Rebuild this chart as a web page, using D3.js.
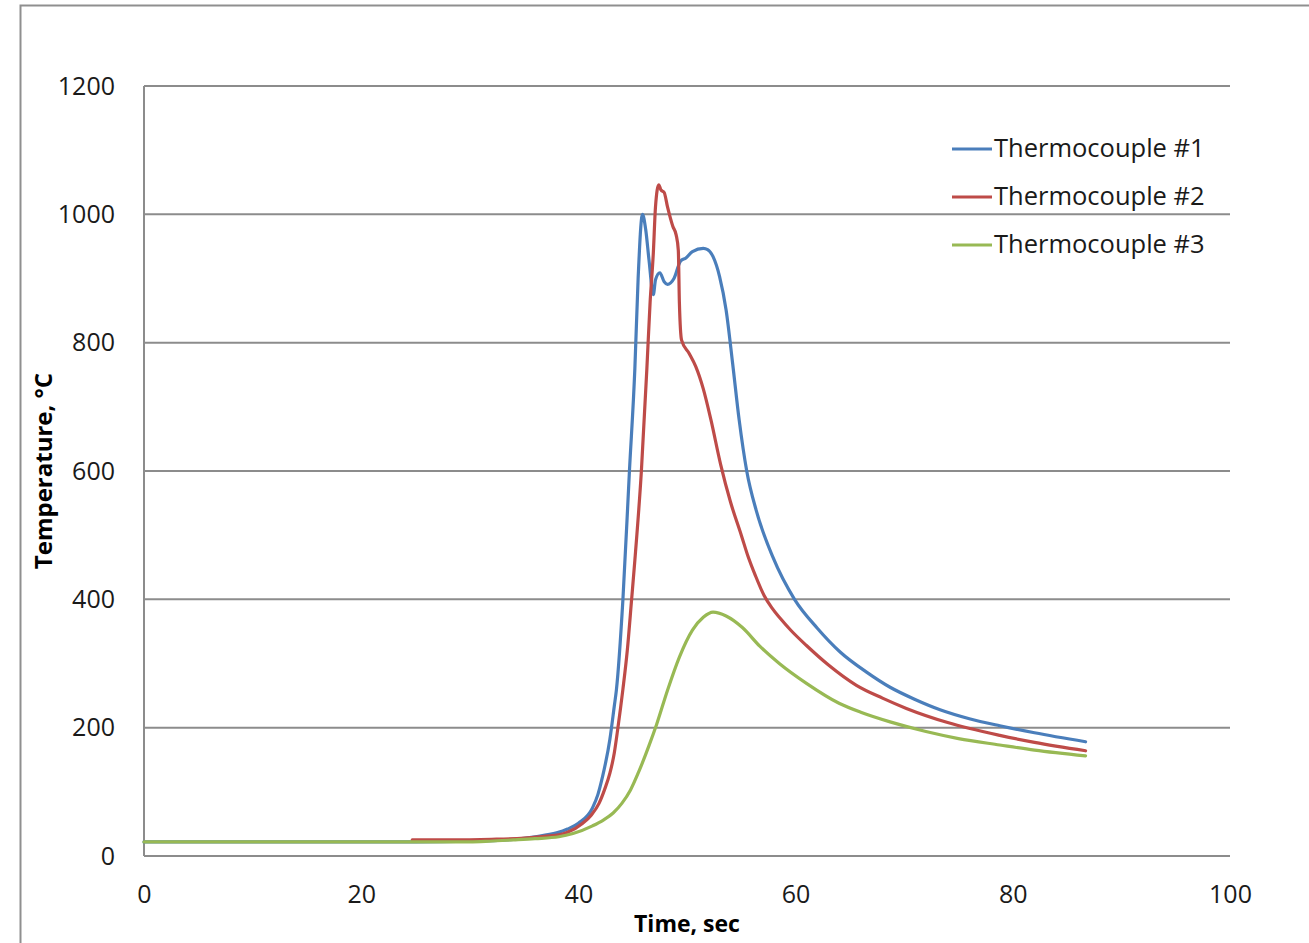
<!DOCTYPE html>
<html>
<head>
<meta charset="utf-8">
<script src="https://cdn.jsdelivr.net/npm/d3@7"></script>
<style>
    body { margin: 0; background: #fff; }
    text { font-family: "Open Sans", "Liberation Sans", sans-serif; fill: #1a1a1a; }
    .tickLabel { font-size: 25px; }
    .axisTitle { font-size: 23px; font-weight: bold; fill: #000; }
    .legendLabel { font-size: 25.5px; }
    .gridLine { stroke: #8c8c8c; stroke-width: 2; }
    .tcLine { fill: none; stroke-width: 3.2; stroke-linejoin: round; stroke-linecap: round; }
</style>
</head>
<body>
<svg id="chart"></svg>
<script>
// values: time (sec) and temperature (C) per thermocouple
const tc1Time = [0, 10, 20, 25, 30, 34, 36, 38, 39, 40, 41.3, 41.8, 42.2, 42.9, 43.3, 43.5, 44.1, 44.7, 45.2, 45.5, 45.9,
    46.2, 46.5, 46.9, 47.1, 47.5, 47.9, 48.2, 48.8, 49.4, 49.9, 50.5, 51.5, 51.9, 52.4, 53.0, 53.6, 54.2, 54.8,
    55.5, 56.4, 57.9, 59.9, 62, 64.1, 66.5, 68.7, 71, 73.3, 76, 78.8, 82, 86.7];
const tc1Temp = [22, 22, 22, 22, 23, 26, 30, 36, 42, 51, 75, 96, 122, 182, 233, 259, 400, 600, 760, 900, 1000,
    976, 929, 875, 898, 909, 895, 891, 900, 927, 932, 942, 947, 945, 934, 903, 851, 768, 680,
    600, 537, 466, 400, 355, 318, 287, 263, 244, 228, 214, 203, 192, 178];

const tc2Time = [24.7, 28, 32, 35, 37, 38.2, 39, 40.4, 41.2, 41.9, 42.4, 42.9, 43.3, 43.6, 44.1, 44.5, 44.9, 45.2,
    45.8, 46.3, 46.6, 46.9, 47.1, 47.4, 47.6, 47.9, 48.2, 48.7, 49.0, 49.2, 49.3, 49.5, 50.2, 50.8, 51.5, 52.2,
    53.1, 54.0, 55.0, 55.6, 56.3, 57.1, 57.8, 58.6, 59.6, 61.0, 63, 65.6, 68, 70.2, 74, 78.8, 82, 86.7];
const tc2Temp = [25, 25, 26, 28, 31, 33, 37, 51, 64, 82, 103, 129, 160, 195, 260, 320, 400, 461,
    600, 758, 862, 940, 1012, 1046, 1038, 1034, 1012, 981, 968, 944, 862, 804, 783, 763, 728, 680,
    610, 552, 500, 468, 437, 406, 387, 370, 351, 328, 298, 266, 246, 230, 208, 188, 177, 164];

const tc3Time = [0, 10, 20, 30, 31.8, 34, 36, 38.2, 39.5, 41.3, 42.3, 43.2, 44.0, 44.8, 45.6, 46.5, 47.2, 48.2,
    49.3, 50.5, 51.5, 52.4, 53.6, 55.1, 56.7, 58.5, 61.0, 64, 66, 68.7, 72, 75, 78.8, 82, 86.7];
const tc3Temp = [22, 22, 22, 22, 23, 25, 27, 30, 35, 47, 56, 67, 82, 103, 133, 172, 205, 258,
    310, 352, 372, 380, 374, 356, 327, 300, 269, 238, 224, 209, 194, 183, 173, 165, 156];

const seriesNames = ['Thermocouple #1', 'Thermocouple #2', 'Thermocouple #3'];
const seriesColors = ['#4a7ebb', '#be4b48', '#98b954'];
const xTicks = [0, 20, 40, 60, 80, 100];
const yTicks = [0, 200, 400, 600, 800, 1000, 1200];

class TempChart {
    constructor(svgID) {
        this.width = 1309;
        this.height = 943;
        this.svg = d3.select('#' + svgID).attr('width', this.width).attr('height', this.height);
        this.xScale = d3.scaleLinear().domain([0, 100]).range([144, 1230]);
        this.yScale = d3.scaleLinear().domain([0, 1200]).range([856, 86]);
        this.series = [
            tc1Time.map((t, i) => ({ t: t, v: tc1Temp[i] })),
            tc2Time.map((t, i) => ({ t: t, v: tc2Temp[i] })),
            tc3Time.map((t, i) => ({ t: t, v: tc3Temp[i] }))
        ];

        this.drawFrame();
        this.drawGrid();
        this.drawAxes();
        this.drawLines();
        this.drawLegend();
    }

    drawFrame() {
        // outer chart border, only left and top show in the picture
        this.svg.append('path')
            .attr('d', 'M20.5,943 V5.5 H1309')
            .attr('fill', 'none')
            .attr('stroke', '#8f8f8f')
            .attr('stroke-width', 2);
    }

    drawGrid() {
        this.svg.append('g')
            .selectAll('line')
            .data(yTicks)
            .join('line')
            .attr('class', 'gridLine')
            .attr('x1', this.xScale(0))
            .attr('x2', this.xScale(100))
            .attr('y1', d => this.yScale(d))
            .attr('y2', d => this.yScale(d));
        // vertical axis line
        this.svg.append('line')
            .attr('class', 'gridLine')
            .attr('x1', this.xScale(0))
            .attr('x2', this.xScale(0))
            .attr('y1', this.yScale(1200))
            .attr('y2', this.yScale(0));
    }

    drawAxes() {
        let xAxis = d3.axisBottom(this.xScale).tickValues(xTicks).tickSize(0).tickPadding(47);
        let xg = this.svg.append('g')
            .attr('transform', 'translate(0,' + this.yScale(0) + ')')
            .call(xAxis);
        xg.select('.domain').remove();
        xg.selectAll('text').attr('class', 'tickLabel').attr('fill', null).attr('dy', 0);

        let yAxis = d3.axisLeft(this.yScale).tickValues(yTicks).tickFormat(d3.format('d'))
            .tickSize(0).tickPadding(29);
        let yg = this.svg.append('g')
            .attr('transform', 'translate(' + this.xScale(0) + ',0)')
            .call(yAxis);
        yg.select('.domain').remove();
        yg.selectAll('text').attr('class', 'tickLabel').attr('fill', null).attr('dy', '0.32em');

        this.svg.append('text')
            .attr('class', 'axisTitle')
            .attr('x', 687)
            .attr('y', 932)
            .attr('text-anchor', 'middle')
            .text('Time, sec');

        this.svg.append('text')
            .attr('class', 'axisTitle')
            .attr('transform', 'translate(52,471) rotate(-90)')
            .attr('text-anchor', 'middle')
            .style('font-size', '24px')
            .text('Temperature,  °C');
    }

    drawLines() {
        let line = d3.line()
            .x(d => this.xScale(d.t))
            .y(d => this.yScale(d.v))
            .curve(d3.curveMonotoneX);
        this.svg.append('g')
            .selectAll('path')
            .data(this.series)
            .join('path')
            .attr('class', 'tcLine')
            .attr('stroke', (d, i) => seriesColors[i])
            .attr('d', line);
    }

    drawLegend() {
        let legend = this.svg.append('g')
            .selectAll('g')
            .data(seriesNames)
            .join('g')
            .attr('transform', (d, i) => 'translate(952,' + (149 + i * 48) + ')');
        legend.append('line')
            .attr('x1', 0)
            .attr('x2', 40)
            .attr('stroke', (d, i) => seriesColors[i])
            .attr('stroke-width', 3.2);
        legend.append('text')
            .attr('class', 'legendLabel')
            .attr('x', 42)
            .attr('y', 8)
            .text(d => d);
    }
}

new TempChart('chart');
</script>
</body>
</html>
